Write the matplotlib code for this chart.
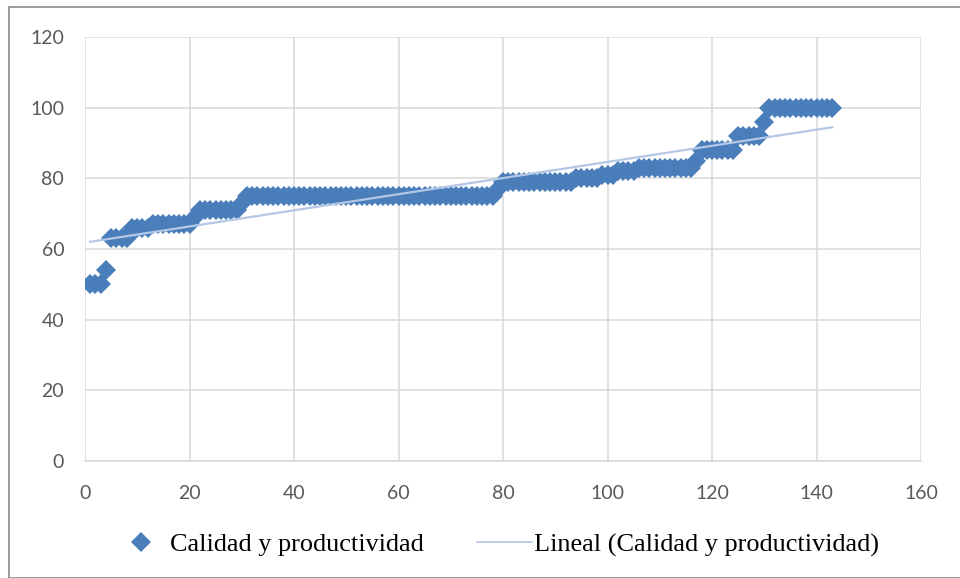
import numpy as np
import matplotlib
matplotlib.use("Agg")
import matplotlib.pyplot as plt
from matplotlib.lines import Line2D
from matplotlib.patches import Rectangle

# ---- data ----
levels = [50, 54, 63, 66, 67, 69, 71, 73, 75, 77, 79, 80, 81, 82, 83, 85, 88, 92, 96, 100]
counts = [3, 1, 4, 4, 8, 1, 8, 1, 48, 1, 14, 5, 3, 4, 11, 1, 7, 5, 1, 13]
series_name = "Calidad y productividad"
trend_name = "Lineal (Calidad y productividad)"
x_ticks = [0, 20, 40, 60, 80, 100, 120, 140, 160]
y_ticks = [0, 20, 40, 60, 80, 100, 120]

y = np.repeat(levels, counts).astype(float)
x = np.arange(1, len(y) + 1)

fig = plt.figure(figsize=(9.6, 5.78), dpi=100)
W, H = 960, 578
ax = fig.add_axes([85 / W, (H - 461) / H, (921 - 85) / W, (461 - 37) / H])

blue = "#4A7EBB"
grid = "#D9D9D9"

ax.set_xlim(0, 160)
ax.set_ylim(0, 120)
ax.set_xticks(x_ticks)
ax.set_yticks(y_ticks)
ax.grid(True, color=grid, lw=1.1, zorder=0)
ax.set_axisbelow(True)
for s in ["top", "right", "left"]:
    ax.spines[s].set_visible(False)
ax.spines["bottom"].set_color(grid)
ax.spines["bottom"].set_linewidth(1.1)
ax.tick_params(length=0, labelsize=14, labelcolor="#595959")
ax.tick_params(axis="y", pad=15)
ax.tick_params(axis="x", pad=17)
for lab in ax.get_xticklabels() + ax.get_yticklabels():
    lab.set_fontfamily("Lato")

ax.plot(x, y, linestyle="none", marker="D", markersize=10.5, color=blue,
        markeredgewidth=0, zorder=3)

coef = np.polyfit(x, y, 1)
xt = np.array([x[0], x[-1]])
ax.plot(xt, np.polyval(coef, xt), color="#B4C7E7", lw=1.6, zorder=4)

handles = [
    Line2D([], [], linestyle="none", marker="D", markersize=10, color=blue, markeredgewidth=0),
    Line2D([], [], color="#B4C7E7", lw=1.2),
]
leg = fig.legend(handles, [series_name, trend_name], loc="center",
                 bbox_to_anchor=(496 / W, (H - 545) / H), ncol=2, frameon=False,
                 prop={"family": "Liberation Serif", "size": 18.9},
                 handlelength=2.1, handletextpad=0.05, columnspacing=2.05)

fig.patches.append(Rectangle((9 / W, 0), (W - 9) / W + 0.1, (H - 7) / H,
                             transform=fig.transFigure, fill=False,
                             edgecolor="#8C8C8C", lw=1.2))

fig.savefig("out.png", dpi=100)
